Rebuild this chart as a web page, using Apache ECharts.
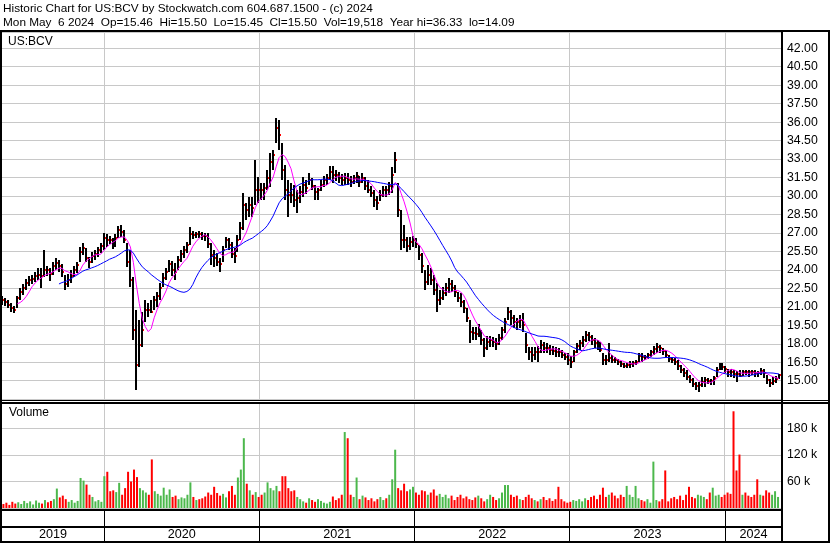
<!DOCTYPE html>
<html><head><meta charset="utf-8">
<script src="https://cdn.jsdelivr.net/npm/echarts/dist/echarts.min.js"></script>
<style>html,body{margin:0;padding:0;background:#fff}#c{width:830px;height:543px}</style>
</head><body><div id="c"></div>
<script>
// Weekly bars, first week 2019-05-07, one entry per week
const highs = [
21.89,21.72,21.56,21.32,21.07,21.89,22.54,22.86,23.27,23.51,
23.59,23.84,24.16,24.16,25.62,24.32,24.16,24.65,24.97,24.81,
24.49,23.59,23.67,24.00,24.32,24.65,25.87,26.19,25.78,25.05,
25.46,25.62,25.87,26.19,27.00,26.92,26.76,26.60,26.92,27.57,
27.65,27.25,26.19,25.62,23.43,20.75,19.94,20.59,21.56,21.32,
21.56,21.89,22.21,22.94,23.76,24.16,24.81,24.73,24.57,25.13,
25.62,25.95,26.27,27.49,27.17,27.08,
27.17,27.08,27.00,27.00,26.19,
25.62,25.38,24.97,25.95,26.68,26.60,26.27,25.78,26.84,27.90,
30.25,29.44,29.93,29.93,32.93,31.55,31.07,31.07,32.12,33.50,
33.75,36.33,36.20,34.31,32.53,31.31,31.07,30.90,30.50,30.82,
31.55,31.31,31.88,31.47,30.90,30.66,31.31,31.63,31.80,32.45,
32.45,32.12,31.96,31.80,31.88,31.88,31.63,31.71,31.96,31.63,
31.88,31.55,31.31,30.82,30.50,30.01,30.50,30.82,30.82,31.15,
32.37,33.58,31.07,28.87,27.65,26.68,26.68,26.76,26.60,26.03,
25.38,24.00,24.40,24.16,23.59,22.94,22.37,22.62,22.94,23.35,
23.19,22.78,22.21,22.13,21.56,20.91,19.94,19.37,19.37,19.61,
19.12,18.47,18.64,18.64,18.56,18.47,18.80,19.37,20.10,20.99,
20.75,20.34,20.10,20.34,20.51,18.88,17.74,17.74,17.74,17.82,
18.31,18.15,18.07,17.91,17.82,
17.74,17.66,17.50,17.25,17.25,17.01,
17.50,18.07,18.31,18.64,19.04,18.96,18.72,18.47,18.31,18.15,
17.25,17.09,18.07,17.09,16.93,16.77,16.61,16.45,16.45,16.61,
16.61,16.69,17.25,17.25,17.09,17.25,17.50,17.82,18.07,17.91,
17.66,17.50,17.09,16.93,16.85,16.69,16.28,16.04,15.87,15.47,
15.22,14.90,14.90,15.30,15.30,15.22,15.14,15.39,16.12,16.45,
16.45,16.20,15.96,15.96,15.87,15.79,15.87,15.87,15.87,15.87,
15.87,15.87,15.79,16.04,15.96,15.47,15.14,15.30,15.39,15.55
];
const lows = [
21.16,21.07,20.91,20.59,20.51,20.91,21.56,21.97,22.37,22.70,
22.86,23.02,23.19,22.54,23.43,23.51,23.10,23.59,24.00,23.84,
23.43,22.37,22.62,22.94,23.43,23.76,24.65,25.22,24.65,24.16,
24.57,24.81,25.05,25.38,25.62,25.87,26.11,25.70,25.87,26.60,
26.68,26.19,24.24,22.62,18.31,14.25,16.12,17.74,19.77,20.18,
20.51,20.75,21.00,21.56,22.62,23.19,23.84,23.51,23.19,24.00,
24.65,24.97,25.38,26.03,26.52,26.60,
26.60,26.43,26.35,25.78,24.40,
24.24,24.32,23.84,24.65,25.78,25.62,24.97,24.57,25.46,26.43,
27.25,28.06,28.30,28.30,29.28,29.44,29.68,29.68,30.50,30.74,
32.12,34.31,33.75,31.31,29.68,28.30,29.44,29.12,28.63,29.44,
29.93,30.17,30.90,30.50,29.68,29.68,30.42,30.74,30.90,31.31,
31.06,31.23,31.06,30.90,30.90,30.90,30.74,30.98,31.06,30.74,
31.06,30.50,30.25,29.93,29.12,28.87,29.60,29.93,29.93,30.09,
30.25,31.88,28.30,25.62,25.78,25.46,25.62,25.87,25.78,24.81,
23.76,22.37,22.78,22.78,21.97,20.59,21.16,21.56,21.89,22.13,
22.21,21.80,21.40,21.00,20.51,19.77,18.07,18.31,18.31,18.56,
17.91,16.93,17.50,17.74,17.74,17.50,17.91,18.31,18.88,19.94,
19.53,19.29,19.12,19.29,18.96,17.25,16.69,16.53,16.69,16.53,
17.25,17.25,17.25,17.09,17.09,
16.93,16.93,16.85,16.69,16.28,16.04,
16.53,17.25,17.50,17.74,18.15,18.23,17.91,17.66,17.50,17.34,
16.28,16.28,16.53,16.45,16.45,16.28,16.12,16.04,16.04,16.04,
16.12,16.28,16.53,16.53,16.69,16.77,16.93,17.09,17.25,17.25,
17.09,16.85,16.53,16.45,16.28,15.87,15.63,15.30,15.06,14.82,
14.49,14.25,14.09,14.49,14.49,14.74,14.66,14.66,15.30,15.87,
15.87,15.63,15.30,15.30,15.22,14.90,15.30,15.39,15.47,15.30,
15.47,15.30,15.30,15.47,15.22,14.74,14.49,14.66,14.82,15.10
];
const closes = [
21.56,21.40,21.16,20.91,20.75,21.72,22.21,22.54,22.94,23.19,
23.27,23.51,23.59,23.51,24.00,24.00,23.67,24.32,24.57,24.32,
23.84,22.86,23.19,23.51,24.00,24.40,25.46,25.78,24.97,24.65,
25.13,25.30,25.62,25.95,26.60,26.43,26.43,26.27,26.60,27.25,
27.08,26.43,24.65,23.19,19.12,16.28,17.91,19.12,20.75,20.75,
20.59,21.56,21.89,22.54,23.35,23.84,24.49,24.00,23.84,24.81,
25.30,25.62,26.03,26.92,26.84,26.92,
26.92,26.76,26.76,26.11,25.22,
24.97,24.65,24.49,25.62,26.43,26.03,25.30,25.13,26.43,27.41,
29.28,28.87,29.28,29.03,30.50,30.50,30.50,30.66,31.47,32.77,
33.34,35.53,34.96,32.12,30.50,30.09,30.09,29.68,29.85,30.33,
30.90,30.66,31.31,30.82,30.33,30.50,30.90,31.31,31.47,31.96,
31.71,31.71,31.47,31.31,31.47,31.31,31.15,31.47,31.63,31.15,
31.47,30.82,30.50,30.25,29.68,29.44,30.09,30.50,30.50,30.82,
31.71,32.93,28.87,26.43,26.43,25.95,26.27,26.43,26.11,25.22,
24.32,23.02,23.59,23.19,22.37,21.56,21.72,22.13,22.54,22.86,
22.54,22.21,21.72,21.40,20.91,20.10,18.96,18.88,18.80,19.12,
18.31,17.66,18.15,18.31,18.15,17.99,18.47,19.12,19.77,20.59,
20.10,19.77,19.77,19.94,19.53,17.91,17.34,17.09,17.34,17.34,
17.91,17.66,17.66,17.50,17.42,
17.34,17.34,17.09,16.93,16.69,16.53,
17.34,17.82,18.07,18.31,18.72,18.56,18.31,18.07,17.82,17.50,
16.69,16.69,16.85,16.69,16.69,16.53,16.36,16.20,16.28,16.36,
16.45,16.53,17.01,16.93,16.93,17.09,17.34,17.58,17.74,17.66,
17.42,17.09,16.77,16.69,16.53,16.20,15.87,15.63,15.30,15.06,
14.74,14.58,14.66,14.90,15.06,14.98,14.98,15.22,15.87,16.20,
16.12,15.96,15.71,15.71,15.55,15.55,15.39,15.71,15.71,15.71,
15.71,15.63,15.63,15.79,15.63,15.06,14.82,14.98,15.14,15.50
];
// thousands of shares
const volumesK = [
9,12,7,14,10,13,9,16,11,15,
8,17,12,10,18,13,16,20,44,24,
28,20,14,18,12,16,68,62,53,30,
25,15,18,14,72,82,38,40,36,57,
30,45,82,60,87,70,45,40,35,30,
110,38,32,28,46,30,42,25,28,20,
24,22,30,58,25,18,
20,22,26,35,30,
48,34,28,32,24,38,50,30,69,87,
158,55,40,30,36,25,30,35,58,45,
40,50,38,72,72,45,38,40,25,20,
15,12,22,18,14,20,16,12,10,14,
26,18,22,30,172,158,30,25,69,20,
28,24,18,22,15,20,25,18,22,30,
65,132,45,40,55,38,42,48,35,30,
40,38,30,35,42,28,32,25,30,22,
28,18,25,30,22,26,20,18,24,28,
22,15,20,30,25,18,22,35,52,52,
30,25,28,20,18,25,30,22,18,15,
20,25,18,22,16,
20,48,20,15,12,14,
18,16,20,15,22,18,25,28,20,30,
46,25,30,35,28,22,30,25,50,30,
25,50,22,18,15,20,12,105,18,15,
20,85,15,22,25,20,28,18,30,48,
25,22,30,28,25,20,35,46,28,30,
25,30,35,32,219,85,121,30,35,28,
25,30,65,30,28,40,35,30,38,25
];
const yearLabels = ['2019','2020','2021','2022','2023','2024'];
const priceTickStep = 1.5;
const volTickStep = 60000;

const DAY = 86400000;
const firstWeek = Date.UTC(2019, 4, 7);
const dates = highs.map((_, i) => firstWeek + i * 7 * DAY);
const axisMin = Date.UTC(2019, 4, 6);
const axisMax = axisMin + 1835 * DAY;

function sma(arr, n) {
  return arr.map((v, i) => {
    if (i < n - 1) return null;
    let s = 0; for (let k = i - n + 1; k <= i; k++) s += arr[k];
    return +(s / n).toFixed(3);
  });
}
const maShort = sma(closes, 6);
const maLong = sma(closes, 20);
const up = closes.map((c, i) => i > 0 && c > closes[i - 1]);

const ohlcData = dates.map((d, i) => [d, lows[i], highs[i], closes[i]]);
const volData = dates.map((d, i) => [d, volumesK[i] * 1000]);
const yearSpans = yearLabels.map((y) => [Date.UTC(+y, 0, 1), Date.UTC(+y + 1, 0, 1), 0]);
const yearStarts = yearLabels.slice(1).map((y) => [Date.UTC(+y, 0, 1), 0]);

const FONT = '"Liberation Sans", Arial, sans-serif';
const FS = '12px ';
const chart = echarts.init(document.getElementById('c'), null, {renderer: 'canvas'});

function ohlcRender(params, api) {
  const t = api.value(0);
  const pl = api.coord([t, api.value(1)]);
  const ph = api.coord([t, api.value(2)]);
  const pc = api.coord([t, api.value(3)]);
  const x = Math.round(pl[0]);
  return {type: 'group', children: [
    {type: 'rect', shape: {x: x - 1, y: Math.round(ph[1]), width: 2, height: Math.max(1, Math.round(pl[1]) - Math.round(ph[1]))}, style: {fill: '#000'}},
    {type: 'rect', shape: {x: x + 1, y: Math.round(pc[1]) - 1, width: 1, height: 2}, style: {fill: '#ff0000'}}
  ]};
}
function yearLineRender(color) {
  return function (params, api) {
    const cs = params.coordSys;
    const x = Math.floor(api.coord([api.value(0), api.value(1)])[0]);
    return {type: 'rect', shape: {x: x, y: cs.y, width: 1, height: cs.height}, style: {fill: color}};
  };
}
function yearLabelRender(params, api) {
  const cs = params.coordSys;
  const a = api.coord([api.value(0), 0])[0];
  const b = api.coord([api.value(1), 0])[0];
  const x0 = Math.max(a, cs.x), x1 = Math.min(b, cs.x + cs.width);
  if (x1 <= x0) return null;
  return {type: 'text', style: {text: yearLabels[params.dataIndex], x: (x0 + x1) / 2, y: 535,
    align: 'center', verticalAlign: 'middle', font: '12.6px ' + FONT, fill: '#000'}};
}

const xBase = {type: 'time', min: axisMin, max: axisMax, show: false, splitLine: {show: false}};
const option = {
  animation: false,
  backgroundColor: '#fff',
  grid: [
    {left: 2, top: 32, width: 780, height: 367.2, outerBoundsMode: 'none', containLabel: false},
    {left: 2, top: 402, width: 780, height: 106, outerBoundsMode: 'none', containLabel: false},
    {left: 2, top: 511, width: 780, height: 30, outerBoundsMode: 'none', containLabel: false}
  ],
  xAxis: [
    Object.assign({gridIndex: 0}, xBase),
    Object.assign({gridIndex: 1}, xBase),
    Object.assign({gridIndex: 2}, xBase)
  ],
  yAxis: [
    {gridIndex: 0, type: 'value', position: 'right', min: 13.5, max: 43.32, interval: priceTickStep,
      axisLine: {show: false}, axisTick: {show: false},
      axisLabel: {margin: 5, color: '#000', fontSize: 12.3, fontFamily: FONT,
        formatter: (v) => (v > 14.9 && v < 42.1) ? v.toFixed(2) : ''},
      splitLine: {show: true, lineStyle: {color: '#c8c8c8', width: 1}}},
    {gridIndex: 1, type: 'value', position: 'right', min: 0, max: 240000, interval: volTickStep,
      axisLine: {show: false}, axisTick: {show: false},
      axisLabel: {margin: 5, color: '#000', fontSize: 12.3, fontFamily: FONT,
        formatter: (v) => (v > 0 && v < 200000) ? (v / 1000) + ' k' : ''},
      splitLine: {show: true, lineStyle: {color: '#c8c8c8', width: 1}}},
    {gridIndex: 2, type: 'value', min: 0, max: 1, show: false}
  ],
  series: [
    {type: 'custom', name: 'yearGridPrice', xAxisIndex: 0, yAxisIndex: 0, z: 1, silent: true,
      renderItem: yearLineRender('#c8c8c8'), data: yearStarts.map(d => [d[0], 20]), encode: {x: 0, y: 1}},
    {type: 'custom', name: 'yearGridVol', xAxisIndex: 1, yAxisIndex: 1, z: 1, silent: true,
      renderItem: yearLineRender('#c8c8c8'), data: yearStarts.map(d => [d[0], 1000]), encode: {x: 0, y: 1}},
    {type: 'custom', name: 'yearSep', xAxisIndex: 2, yAxisIndex: 2, z: 1, silent: true,
      renderItem: yearLineRender('#000'), data: yearStarts.map(d => [d[0], 0.5]), encode: {x: 0, y: 1}},
    {type: 'custom', name: 'years', xAxisIndex: 2, yAxisIndex: 2, z: 3, silent: true, clip: false,
      renderItem: yearLabelRender, data: yearSpans, encode: {x: [0, 1], y: 2}},
    {type: 'custom', name: 'price', xAxisIndex: 0, yAxisIndex: 0, z: 3, silent: true, clip: true,
      renderItem: ohlcRender, data: ohlcData, encode: {x: 0, y: [1, 2, 3]}},
    {type: 'line', name: 'ma30', xAxisIndex: 0, yAxisIndex: 0, z: 4, silent: true, showSymbol: false,
      data: dates.map((d, i) => [d, maShort[i]]), lineStyle: {color: '#ff00ff', width: 1}, itemStyle: {color: '#ff00ff'}},
    {type: 'line', name: 'ma100', xAxisIndex: 0, yAxisIndex: 0, z: 4, silent: true, showSymbol: false,
      data: dates.map((d, i) => [d, maLong[i]]), lineStyle: {color: '#0000ff', width: 1}, itemStyle: {color: '#0000ff'}},
    {type: 'bar', name: 'volume', xAxisIndex: 1, yAxisIndex: 1, z: 3, silent: true, barWidth: 2,
      data: volData, itemStyle: {color: (p) => up[p.dataIndex] ? '#4cb84c' : '#ff0000'}}
  ],
  graphic: [
    {type: 'text', z: 100, silent: true, style: {text: 'Historic Chart for US:BCV by Stockwatch.com 604.687.1500 - (c) 2024', x: 3, y: 8.5, verticalAlign: 'middle', font: '11.8px ' + FONT, fill: '#000'}},
    {type: 'text', z: 100, silent: true, style: {text: 'Mon May  6 2024  Op=15.46  Hi=15.50  Lo=15.45  Cl=15.50  Vol=19,518  Year hi=36.33  lo=14.09', x: 3, y: 22.5, verticalAlign: 'middle', font: '11.8px ' + FONT, fill: '#000'}},
    {type: 'text', z: 100, silent: true, style: {text: 'US:BCV', x: 8, y: 42, verticalAlign: 'middle', font: FS + FONT, fill: '#000'}},
    {type: 'text', z: 100, silent: true, style: {text: 'Volume', x: 9, y: 413, verticalAlign: 'middle', font: FS + FONT, fill: '#000'}},
    {type: 'rect', z: 100, silent: true, shape: {x: 0, y: 30, width: 830, height: 2}, style: {fill: '#000'}},
    {type: 'rect', z: 100, silent: true, shape: {x: 0, y: 30, width: 2, height: 513}, style: {fill: '#000'}},
    {type: 'rect', z: 100, silent: true, shape: {x: 828, y: 30, width: 2, height: 513}, style: {fill: '#000'}},
    {type: 'rect', z: 100, silent: true, shape: {x: 0, y: 541, width: 830, height: 2}, style: {fill: '#000'}},
    {type: 'rect', z: 100, silent: true, shape: {x: 781, y: 30, width: 2, height: 513}, style: {fill: '#000'}},
    {type: 'rect', z: 100, silent: true, shape: {x: 0, y: 400, width: 830, height: 1}, style: {fill: '#000'}},
    {type: 'rect', z: 100, silent: true, shape: {x: 0, y: 402, width: 830, height: 2}, style: {fill: '#000'}},
    {type: 'rect', z: 100, silent: true, shape: {x: 0, y: 509, width: 782, height: 2}, style: {fill: '#000'}},
    {type: 'rect', z: 100, silent: true, shape: {x: 0, y: 526, width: 782, height: 2}, style: {fill: '#000'}}
  ]
};
chart.setOption(option);
</script>
</body></html>
